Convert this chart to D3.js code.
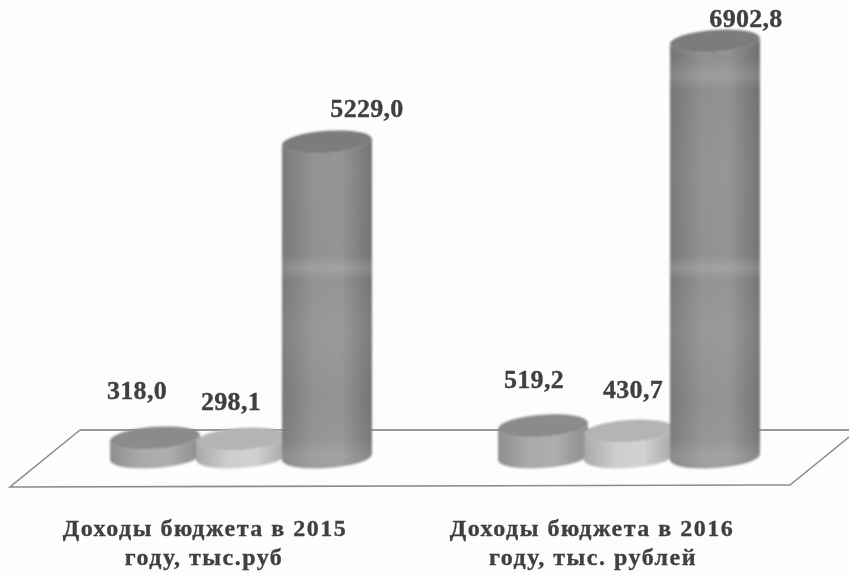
<!DOCTYPE html>
<html>
<head>
<meta charset="utf-8">
<script src="https://cdn.jsdelivr.net/npm/d3@7"></script>
<style>
  html, body { margin: 0; padding: 0; background: #fdfdfd; }
  svg { display: block; }
  text { font-family: "Liberation Serif", serif; font-weight: bold; fill: #3f3f3f; stroke: #3f3f3f; stroke-width: 0.35px; }
</style>
</head>
<body>
<script>
// Chart data
const categories = ['2015', '2016'];
const categoryLine1 = ['Доходы бюджета в 2015', 'Доходы бюджета в 2016'];
const categoryLine2 = ['году, тыс.руб', 'году, тыс. рублей'];
const seriesNames = ['a', 'b', 'c'];
const values2015 = [318.0, 298.1, 5229.0];
const values2016 = [519.2, 430.7, 6902.8];
const valueLabels2015 = ['318,0', '298,1', '5229,0'];
const valueLabels2016 = ['519,2', '430,7', '6902,8'];

const width = 849, height = 573;
const baseY = 457, rx = 45, ry = 11, tilt = 3;

const svg = d3.select('body').append('svg')
  .attr('width', width).attr('height', height);

svg.append('rect').attr('width', width).attr('height', height).attr('fill', '#fdfdfd');

const defs = svg.append('defs');
defs.append('filter').attr('id', 'soft')
  .append('feGaussianBlur').attr('stdDeviation', 1);
defs.append('filter').attr('id', 'softText')
  .append('feGaussianBlur').attr('stdDeviation', 0.5);

// Scales
const y = d3.scaleLinear().domain([0, 6902.8]).range([baseY, 41]);
const xGroup = d3.scalePoint().domain(categories).range([241, 629]);
const xSeries = d3.scalePoint().domain(seriesNames).range([-86, 86]);

// Side shading of each series: dark edges, lighter middle
const sideColors = {
  a: ['#8e8e8e', '#ababab', '#adadad', '#8c8c8c'],
  b: ['#a8a8a8', '#cdcdcd', '#d2d2d2', '#a8a8a8'],
  c: ['#757575', '#8f8f8f', '#929292', '#707070']
};
const capColors = { a: '#8b8b8b', b: '#b4b4b4', c: '#7c7c7c' };

seriesNames.forEach(s => {
  const g = defs.append('linearGradient').attr('id', 'side-' + s);
  sideColors[s].forEach((c, i) => {
    g.append('stop').attr('offset', [0, 0.35, 0.65, 1][i]).attr('stop-color', c);
  });
});

// Faint horizontal bands on the tall columns, fixed to page height
const bands = defs.append('linearGradient').attr('id', 'bands')
  .attr('gradientUnits', 'userSpaceOnUse')
  .attr('x1', 0).attr('x2', 0).attr('y1', 0).attr('y2', height);
[[60, 0], [75, 0.12], [90, 0], [170, 0.04], [255, 0.02], [268, 0.16], [280, 0.03],
 [330, 0.08], [400, 0.02], [440, 0.06], [455, 0.16], [470, 0.12]].forEach(d => {
  bands.append('stop').attr('offset', d[0] / height)
    .attr('stop-color', '#fff').attr('stop-opacity', d[1]);
});

// Floor of the 3D chart
const floor = svg.append('g').attr('fill', 'none').attr('stroke', '#8c8c8c').attr('stroke-width', 1.6);
floor.append('path').attr('d', d3.line()([[80, 430], [849, 430]])).attr('stroke', '#777');
floor.append('path').attr('d', d3.line()([[80, 430], [10, 487], [790, 485], [849, 437]]));

const rows = categories.flatMap((c, i) => {
  const vals = i === 0 ? values2015 : values2016;
  const labels = i === 0 ? valueLabels2015 : valueLabels2016;
  return seriesNames.map((s, j) => ({ c, s, value: vals[j], label: labels[j] }));
});

// Columns, drawn left to right so that each overlaps the previous one
const cols = svg.append('g').attr('filter', 'url(#soft)')
  .selectAll('g').data(rows).join('g')
  .attr('transform', d => `translate(${xGroup(d.c) + xSeries(d.s)},0)`);

function sidePath(d) {
  const t = y(d.value);
  return `M${-rx},${t + tilt}L${-rx},${baseY + tilt}A${rx},${ry} -4 0 0 ${rx},${baseY - tilt}` +
    `L${rx},${t - tilt}A${rx},${ry} -4 0 1 ${-rx},${t + tilt}Z`;
}

function capPath(d) {
  const t = y(d.value);
  return `M${-rx},${t + tilt}A${rx},${ry} -4 0 1 ${rx},${t - tilt}A${rx},${ry} -4 0 1 ${-rx},${t + tilt}Z`;
}

cols.append('path').attr('d', sidePath).attr('fill', d => `url(#side-${d.s})`);
cols.filter(d => d.value > 1000).append('path').attr('d', sidePath).attr('fill', 'url(#bands)');
cols.append('path').attr('d', capPath).attr('fill', d => capColors[d.s]);

// Value labels: offset from the column top, one per label
const labelDx = [-18, -10, 40, -9, 4, 31];
const labelDy = [-39, -29, -25, -38, -33, -14];

svg.append('g').attr('filter', 'url(#softText)')
  .selectAll('text').data(rows).join('text')
  .attr('x', (d, i) => xGroup(d.c) + xSeries(d.s) + labelDx[i])
  .attr('y', (d, i) => y(d.value) + labelDy[i])
  .attr('text-anchor', 'middle')
  .attr('font-size', 26)
  .attr('letter-spacing', 0.3)
  .text(d => d.label);

// Category labels
const catG = svg.append('g').attr('filter', 'url(#softText)')
  .selectAll('g').data(categories).join('g')
  .attr('font-size', 24).attr('letter-spacing', 1.5);
catG.append('text')
  .attr('x', (d, i) => [205, 592][i]).attr('y', 536)
  .attr('text-anchor', 'middle')
  .text((d, i) => categoryLine1[i]);
catG.append('text')
  .attr('x', (d, i) => [204, 593][i]).attr('y', 565)
  .attr('text-anchor', 'middle')
  .text((d, i) => categoryLine2[i]);
</script>
</body>
</html>
